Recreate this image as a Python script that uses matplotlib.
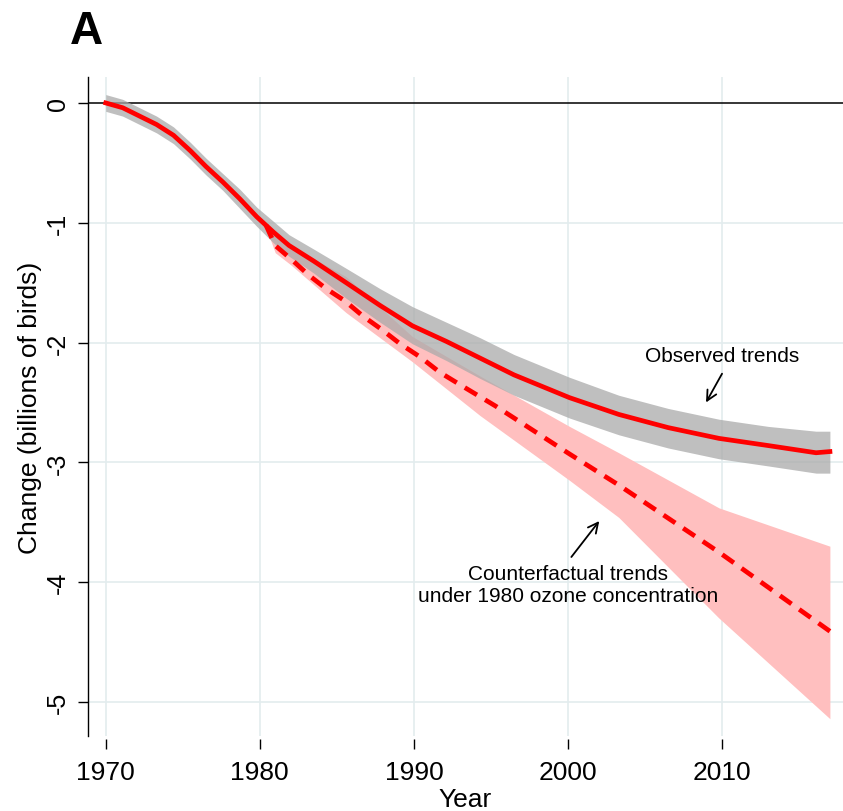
import matplotlib
matplotlib.use('Agg')
from matplotlib import pyplot as plt
from matplotlib import rcParams

# observed trends (billions of birds)
obs_year = [1970.0, 1971.1, 1972.2, 1973.3, 1974.4, 1975.5, 1976.5, 1977.6, 1978.7,
            1979.8, 1980.9, 1981.9, 1983.5, 1985.6, 1987.8, 1989.9, 1992.1, 1994.3,
            1996.5, 2000.1, 2003.3, 2006.5, 2009.8, 2013.0, 2016.1, 2017.0]
obs_mid = [0.00, -0.04, -0.11, -0.18, -0.27, -0.40, -0.53, -0.66, -0.80,
           -0.95, -1.08, -1.19, -1.32, -1.50, -1.69, -1.86, -1.99, -2.13,
           -2.27, -2.46, -2.60, -2.71, -2.80, -2.86, -2.92, -2.91]
obs_hi = [0.07, 0.03, -0.04, -0.11, -0.20, -0.33, -0.46, -0.59, -0.72,
          -0.87, -0.99, -1.10, -1.22, -1.38, -1.55, -1.70, -1.83, -1.96,
          -2.10, -2.29, -2.44, -2.55, -2.64, -2.70, -2.74, -2.74]
obs_lo = [-0.07, -0.11, -0.18, -0.25, -0.34, -0.47, -0.60, -0.73, -0.88,
          -1.03, -1.17, -1.28, -1.42, -1.63, -1.83, -2.01, -2.15, -2.30,
          -2.44, -2.63, -2.77, -2.88, -2.97, -3.03, -3.09, -3.09]

# counterfactual under 1980 ozone concentration
cf_year = [1980.4, 1981.0, 1982.0, 1983.2, 1984.3, 1985.5, 1986.7, 1987.9, 1989.1,
           1990.4, 1991.7, 1993.1, 1995.3, 2000.1, 2003.3, 2009.8, 2017.0]
cf_mid = [-1.02, -1.19, -1.30, -1.44, -1.55, -1.65, -1.78, -1.89, -2.01,
          -2.12, -2.25, -2.36, -2.53, -2.93, -3.19, -3.75, -4.41]
band_year = [1980.4, 1981.0, 1982.0, 1985.6, 1989.9, 1994.3, 2000.1, 2003.3,
             2009.8, 2017.0]
cf_hi = [-1.00, -1.10, -1.19, -1.45, -1.95, -2.28, -2.70, -2.92,
         -3.38, -3.70]
cf_lo = [-1.04, -1.25, -1.35, -1.75, -2.16, -2.61, -3.15, -3.46,
         -4.30, -5.14]

x_ticks = [1970, 1980, 1990, 2000, 2010]
y_ticks = [0, -1, -2, -3, -4, -5]

rcParams['font.family'] = ['Liberation Sans', 'DejaVu Sans']
fig = plt.figure(figsize=(8.43, 8.12), dpi=100)
ax = fig.add_axes([0.1044, 0.0924, 0.8956, 0.8116])

grid_c = '#E3ECEE'
for x in x_ticks:
    ax.axvline(x, color=grid_c, lw=1.2, zorder=0)
for y in y_ticks[1:]:
    ax.axhline(y, color=grid_c, lw=1.2, zorder=0)
ax.axhline(0, color='black', lw=1.1, zorder=1)

ax.fill_between(band_year, cf_lo, cf_hi, color='#FFBFBF', lw=0, zorder=2)
ax.fill_between(obs_year, obs_lo, obs_hi, color='#AAAAAA', alpha=0.75, lw=0, zorder=3)
ax.plot(cf_year, cf_mid, color='red', lw=3.4, ls=(0, (3.0, 2.0)), zorder=4)
ax.plot(obs_year, obs_mid, color='red', lw=3.4, zorder=5)

ax.set_xlim(1968.85, 2017.85)
ax.set_ylim(-5.284, 0.217)
ax.set_xticks(x_ticks)
ax.set_yticks(y_ticks)
ax.set_yticklabels([str(v) for v in y_ticks], rotation=90, va='center')
ax.tick_params(axis='x', length=7.2, width=1.0, labelsize=19, pad=8)
ax.tick_params(axis='y', length=7.2, width=1.0, labelsize=18, pad=6)

for s in ['top', 'right']:
    ax.spines[s].set_visible(False)
ax.spines['bottom'].set_position(('outward', 2))
ax.spines['bottom'].set_visible(False)
ax.spines['left'].set_linewidth(1.0)

ax.set_xlabel('Year', fontsize=19, labelpad=2)
ax.set_ylabel('Change (billions of birds)', fontsize=19, labelpad=3)

ax.text(2010.0, -2.11, 'Observed trends', ha='center', va='center', fontsize=15)
ax.annotate('', xy=(2008.96, -2.50), xytext=(2010.0, -2.26),
            arrowprops=dict(arrowstyle='->', color='black', lw=1.3,
                            shrinkA=0, shrinkB=0, mutation_scale=18))
ax.text(2000.0, -4.02, 'Counterfactual trends\nunder 1980 ozone concentration',
        ha='center', va='center', fontsize=15, linespacing=1.25)
ax.annotate('', xy=(2002.03, -3.49), xytext=(2000.22, -3.79),
            arrowprops=dict(arrowstyle='->', color='black', lw=1.3,
                            shrinkA=0, shrinkB=0, mutation_scale=18))

fig.text(0.083, 0.988, 'A', fontsize=33, fontweight='bold', va='top', ha='left')

plt.savefig('out.png', dpi=100)
